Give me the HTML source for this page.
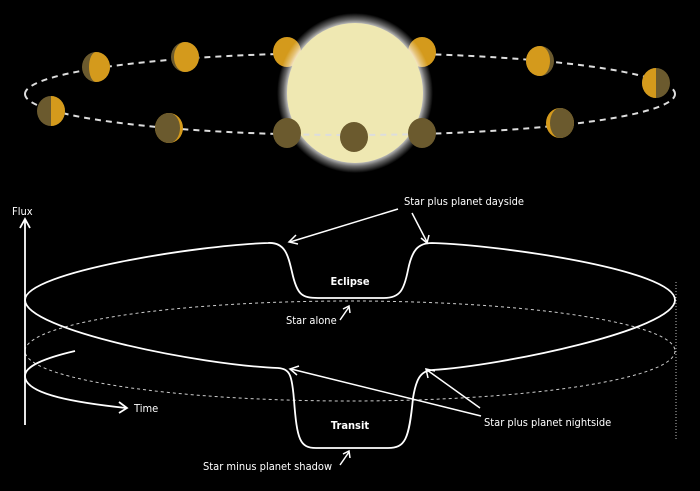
<!DOCTYPE html>
<html><head><meta charset="utf-8"><style>
html,body{margin:0;padding:0;background:#000;}
svg{display:block;}
text{font-family:"DejaVu Sans Condensed","Liberation Sans",sans-serif;fill:#fff;font-size:11px;}
</style></head><body>
<svg width="700" height="491" viewBox="0 0 700 491" xmlns="http://www.w3.org/2000/svg">
<defs>
<radialGradient id="glow" cx="50%" cy="50%" r="50%">
<stop offset="0.84" stop-color="#fff" stop-opacity="0.95"/>
<stop offset="0.92" stop-color="#fff" stop-opacity="0.4"/>
<stop offset="1" stop-color="#fff" stop-opacity="0"/>
</radialGradient>
</defs>
<rect width="700" height="491" fill="#000"/>
<path d="M25,94 A325,41 0 0 1 675,94" fill="none" stroke="#ddd" stroke-width="2" stroke-dasharray="6,5"/>
<g>
<ellipse cx="96" cy="67" rx="14" ry="15" fill="#6b5a2e"/>
<path d="M96,52 A14,15 0 0 1 96,82 A7,15 0 0 1 96,52Z" fill="#d49a1c"/>
<ellipse cx="185" cy="57" rx="14" ry="15" fill="#6b5a2e"/>
<path d="M185,42 A14,15 0 0 1 185,72 A11,15 0 0 1 185,42Z" fill="#d49a1c"/>
<ellipse cx="287" cy="52" rx="14" ry="15" fill="#d49a1c"/>
<ellipse cx="422" cy="52" rx="14" ry="15" fill="#d49a1c"/>
<ellipse cx="540" cy="61" rx="14" ry="15" fill="#6b5a2e"/>
<path d="M540,46 A14,15 0 0 0 540,76 A10,15 0 0 0 540,46Z" fill="#d49a1c"/>
<ellipse cx="656" cy="83" rx="14" ry="15" fill="#6b5a2e"/>
<path d="M656,68 A14,15 0 0 0 656,98 Z" fill="#d49a1c"/>
</g>
<ellipse cx="355" cy="93" rx="78" ry="80" fill="url(#glow)"/>
<ellipse cx="355" cy="93" rx="68" ry="70" fill="#efe8b2"/>
<path d="M25,94 A325,41 0 0 0 675,94" fill="none" stroke="#ddd" stroke-width="2" stroke-dasharray="6,5"/>
<g>
<ellipse cx="51" cy="111" rx="14" ry="15" fill="#6b5a2e"/>
<path d="M51,96 A14,15 0 0 1 51,126 Z" fill="#d49a1c"/>
<ellipse cx="169" cy="128" rx="14" ry="15" fill="#d49a1c"/>
<path d="M169,113 A14,15 0 0 0 169,143 A11,15 0 0 0 169,113Z" fill="#6b5a2e"/>
<ellipse cx="287" cy="133" rx="14" ry="15" fill="#6b5a2e"/>
<ellipse cx="354" cy="137" rx="14" ry="15" fill="#6b5a2e"/>
<ellipse cx="422" cy="133" rx="14" ry="15" fill="#6b5a2e"/>
<ellipse cx="560" cy="123" rx="14" ry="15" fill="#d49a1c"/>
<path d="M560,108 A14,15 0 0 1 560,138 A10,15 0 0 1 560,108Z" fill="#6b5a2e"/>
</g>

<ellipse cx="350" cy="351" rx="325" ry="50" fill="none" stroke="#ccc" stroke-width="1" stroke-dasharray="3,3"/>
<line x1="676" y1="282" x2="676" y2="440" stroke="#bbb" stroke-width="1" stroke-dasharray="1,2"/>
<path d="M25,300 C25,272 200,245 268,243 C285,242 288,255 292,272 C297,295 302,298 318,298 L384,298 C400,298 404,290 408,270 C412,250 418,243 432,243 C500,245 675,270 675,300 C675,330 500,366 432,370 C420,371 416,380 413,398 C409,440 405,448 388,448 L316,448 C300,448 297,440 294,400 C292,375 290,369 278,368 C200,365 25,330 25,300 Z" fill="none" stroke="#fff" stroke-width="1.8"/>
<line x1="25" y1="220" x2="25" y2="425" stroke="#fff" stroke-width="1.8"/>
<path d="M20,228 L25,219 L30,228" fill="none" stroke="#fff" stroke-width="1.8"/>
<text x="12" y="215">Flux</text>
<path d="M75,351 C45,358 25,366 25,376 C25,395 80,403 126,408" fill="none" stroke="#fff" stroke-width="1.8"/>
<path d="M119,402 L127,408 L119,413" fill="none" stroke="#fff" stroke-width="1.8"/>
<text x="134" y="412">Time</text>
<text x="404" y="205">Star plus planet dayside</text>
<line x1="398" y1="209" x2="290" y2="242" stroke="#fff" stroke-width="1.5"/>
<path d="M296,235 L289,242 L298,244" fill="none" stroke="#fff" stroke-width="1.5"/>
<line x1="412" y1="213" x2="427" y2="242" stroke="#fff" stroke-width="1.5"/>
<path d="M421,238 L427,243 L429,235" fill="none" stroke="#fff" stroke-width="1.5"/>
<text x="350" y="285" text-anchor="middle" font-weight="bold">Eclipse</text>
<text x="286" y="324">Star alone</text>
<line x1="340" y1="320" x2="349" y2="307" stroke="#fff" stroke-width="1.5"/>
<path d="M343,309 L349,306 L350,313" fill="none" stroke="#fff" stroke-width="1.5"/>
<text x="350" y="429" text-anchor="middle" font-weight="bold">Transit</text>
<text x="484" y="426">Star plus planet nightside</text>
<line x1="481" y1="416" x2="291" y2="369" stroke="#fff" stroke-width="1.5"/>
<path d="M299,366 L290,369 L297,375" fill="none" stroke="#fff" stroke-width="1.5"/>
<line x1="480" y1="408" x2="427" y2="370" stroke="#fff" stroke-width="1.5"/>
<path d="M428,378 L426,369 L435,371" fill="none" stroke="#fff" stroke-width="1.5"/>
<text x="203" y="470">Star minus planet shadow</text>
<line x1="340" y1="465" x2="349" y2="452" stroke="#fff" stroke-width="1.5"/>
<path d="M343,454 L349,451 L350,458" fill="none" stroke="#fff" stroke-width="1.5"/>
</svg>
</body></html>
